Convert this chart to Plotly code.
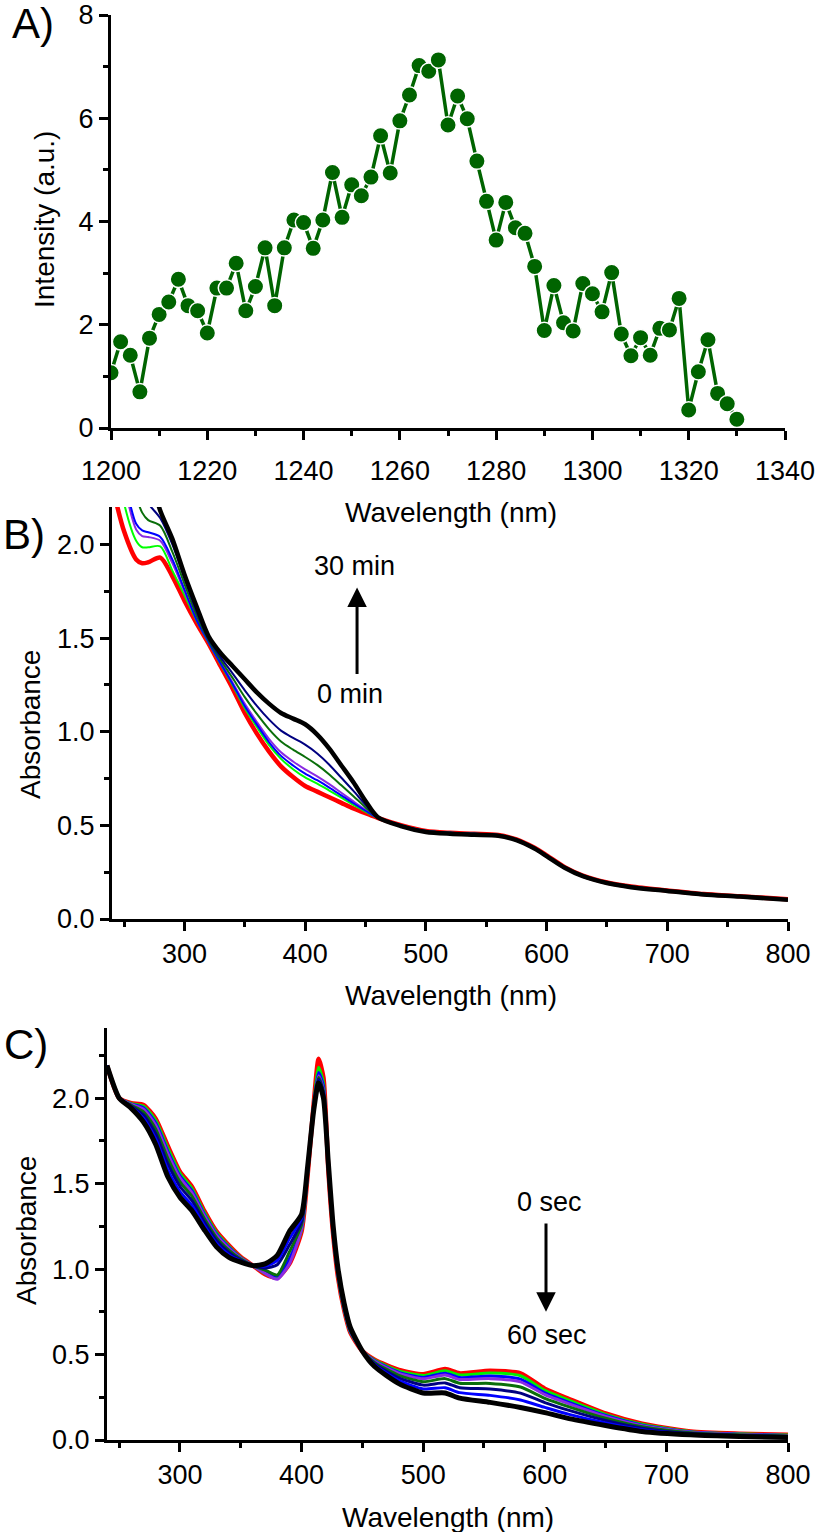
import plotly.graph_objects as go

# ---------------- Panel A data ----------------
A_wavelength = [1200, 1202, 1204, 1206, 1208, 1210, 1212, 1214, 1216, 1218,
                1220, 1222, 1224, 1226, 1228, 1230, 1232, 1234, 1236, 1238,
                1240, 1242, 1244, 1246, 1248, 1250, 1252, 1254, 1256, 1258,
                1260, 1262, 1264, 1266, 1268, 1270, 1272, 1274, 1276, 1278,
                1280, 1282, 1284, 1286, 1288, 1290, 1292, 1294, 1296, 1298,
                1300, 1302, 1304, 1306, 1308, 1310, 1312, 1314, 1316, 1318,
                1320, 1322, 1324, 1326, 1328, 1330]
A_intensity = [1.07, 1.67, 1.41, 0.70, 1.74, 2.20, 2.44, 2.88, 2.37, 2.27,
               1.84, 2.71, 2.71, 3.19, 2.27, 2.74, 3.49, 2.37, 3.49, 4.03,
               3.98, 3.48, 4.03, 4.95, 4.08, 4.71, 4.50, 4.86, 5.66, 4.94,
               5.95, 6.45, 7.02, 6.91, 7.13, 5.87, 6.43, 5.99, 5.17, 4.39,
               3.64, 4.37, 3.88, 3.77, 3.13, 1.89, 2.76, 2.04, 1.88, 2.80,
               2.60, 2.25, 3.01, 1.82, 1.40, 1.75, 1.41, 1.93, 1.90, 2.51,
               0.35, 1.09, 1.71, 0.67, 0.47, 0.17]

# ---------------- Panel B data (0 min -> 30 min) ----------------
B_wavelength = [240, 250, 260, 265, 270, 280, 290, 300, 310, 320, 330, 340, 350, 360,
                370, 380, 390, 400, 410, 420, 430, 440, 450, 460, 480, 500, 520, 540,
                560, 575, 590, 600, 615, 630, 650, 670, 700, 730, 760, 800]
B_red = [2.32, 2.07, 1.92, 1.90, 1.905, 1.93, 1.83, 1.70, 1.58, 1.47, 1.35, 1.23, 1.10, 0.99,
         0.895, 0.815, 0.758, 0.71, 0.68, 0.65, 0.62, 0.59, 0.565, 0.54, 0.50, 0.47, 0.46, 0.455,
         0.448, 0.425, 0.38, 0.34, 0.277, 0.232, 0.195, 0.173, 0.152, 0.133, 0.122, 0.105]
B_green = [2.6, 2.22, 2.02, 1.985, 1.985, 1.99, 1.86, 1.73, 1.593, 1.476, 1.36, 1.247, 1.125, 1.025,
           0.93, 0.855, 0.80, 0.756, 0.723, 0.686, 0.648, 0.610, 0.574, 0.541, 0.50, 0.47, 0.46, 0.455,
           0.448, 0.425, 0.38, 0.34, 0.277, 0.232, 0.195, 0.173, 0.152, 0.133, 0.122, 0.105]
B_purple = [2.7, 2.32, 2.08, 2.045, 2.04, 2.02, 1.90, 1.75, 1.604, 1.481, 1.369, 1.262, 1.149, 1.052,
            0.962, 0.89, 0.841, 0.799, 0.762, 0.720, 0.674, 0.628, 0.583, 0.541, 0.50, 0.47, 0.46, 0.455,
            0.448, 0.425, 0.38, 0.34, 0.277, 0.232, 0.195, 0.173, 0.152, 0.133, 0.122, 0.105]
B_blue = [2.75, 2.36, 2.11, 2.075, 2.065, 2.04, 1.92, 1.76, 1.598, 1.478, 1.364, 1.254, 1.136, 1.038,
          0.945, 0.871, 0.82, 0.776, 0.741, 0.702, 0.660, 0.618, 0.578, 0.541, 0.50, 0.47, 0.46, 0.455,
          0.448, 0.425, 0.38, 0.34, 0.277, 0.232, 0.195, 0.173, 0.152, 0.133, 0.122, 0.105]
B_darkgreen = [2.85, 2.55, 2.26, 2.17, 2.13, 2.10, 1.96, 1.79, 1.622, 1.489, 1.383, 1.286, 1.185, 1.095,
               1.014, 0.948, 0.904, 0.865, 0.823, 0.772, 0.714, 0.656, 0.596, 0.542, 0.50, 0.47, 0.46, 0.455,
               0.448, 0.425, 0.38, 0.34, 0.277, 0.232, 0.195, 0.173, 0.152, 0.133, 0.122, 0.105]
B_navy = [2.9, 2.65, 2.40, 2.30, 2.22, 2.14, 2.00, 1.82, 1.640, 1.497, 1.397, 1.310, 1.221, 1.138,
          1.066, 1.006, 0.967, 0.931, 0.884, 0.824, 0.754, 0.684, 0.610, 0.543, 0.50, 0.47, 0.46, 0.455,
          0.448, 0.425, 0.38, 0.34, 0.277, 0.232, 0.195, 0.173, 0.152, 0.133, 0.122, 0.105]
B_black = [2.9, 2.75, 2.6, 2.5, 2.4, 2.18, 2.03, 1.84, 1.67, 1.51, 1.42, 1.35, 1.28, 1.21,
           1.15, 1.10, 1.07, 1.04, 0.985, 0.91, 0.82, 0.73, 0.63, 0.545, 0.495, 0.465, 0.455, 0.45,
           0.445, 0.421, 0.376, 0.336, 0.274, 0.229, 0.192, 0.170, 0.150, 0.131, 0.120, 0.103]

# ---------------- Panel C data (0 sec -> 60 sec) ----------------
C_wavelength = [240, 250, 260, 270, 280, 290, 300, 310, 320, 330, 340, 350, 360, 370, 380, 390, 400,
                405, 410, 414, 418, 422, 426, 430, 435, 440,
                450, 460, 480, 500, 518, 530, 555, 580, 600, 620, 650, 680, 720, 760, 800]
C_red = [2.19, 2.00, 1.97, 1.96, 1.88, 1.72, 1.57, 1.48, 1.34, 1.22, 1.14, 1.07, 1.02, 0.97, 0.95, 1.03, 1.22,
         1.55, 1.97, 2.23, 2.12, 1.58, 1.20, 0.95, 0.76, 0.63,
         0.52, 0.47, 0.41, 0.385, 0.415, 0.39, 0.405, 0.39, 0.30, 0.24, 0.155, 0.095, 0.05, 0.037, 0.03]
C_green = [2.19, 2.00, 1.968, 1.953, 1.87, 1.707, 1.56, 1.47, 1.332, 1.214, 1.135, 1.068, 1.02, 0.974, 0.945, 1.043, 1.227,
           1.553, 1.967, 2.18, 2.09, 1.583, 1.204, 0.954, 0.763, 0.632,
           0.52, 0.467, 0.404, 0.377, 0.405, 0.38, 0.392, 0.376, 0.29, 0.232, 0.15, 0.092, 0.049, 0.036, 0.029]
C_blue = [2.19, 2.00, 1.965, 1.943, 1.855, 1.689, 1.545, 1.456, 1.321, 1.205, 1.128, 1.065, 1.02, 0.98, 0.96, 1.062, 1.237,
          1.559, 1.963, 2.15, 2.07, 1.587, 1.209, 0.959, 0.767, 0.635,
          0.52, 0.463, 0.396, 0.366, 0.391, 0.365, 0.374, 0.356, 0.276, 0.22, 0.143, 0.087, 0.047, 0.034, 0.027]
C_purple = [2.19, 2.00, 1.963, 1.935, 1.843, 1.675, 1.533, 1.445, 1.313, 1.198, 1.123, 1.063, 1.02, 0.975, 0.94, 1.03, 1.235,
            1.563, 1.96, 2.13, 2.05, 1.59, 1.213, 0.963, 0.77, 0.638,
            0.52, 0.46, 0.39, 0.358, 0.38, 0.354, 0.359, 0.34, 0.265, 0.211, 0.138, 0.084, 0.045, 0.033, 0.026]
C_darkgreen = [2.19, 2.00, 1.958, 1.92, 1.82, 1.648, 1.51, 1.424, 1.296, 1.184, 1.112, 1.058, 1.02, 0.994, 0.965, 1.10, 1.26,
               1.57, 1.954, 2.12, 2.04, 1.596, 1.22, 0.97, 0.776, 0.642,
               0.52, 0.454, 0.378, 0.341, 0.359, 0.332, 0.331, 0.31, 0.244, 0.194, 0.127, 0.077, 0.042, 0.03, 0.024]
C_navy = [2.19, 2.00, 1.953, 1.902, 1.793, 1.616, 1.483, 1.399, 1.276, 1.168, 1.099, 1.053, 1.02, 1.005, 1.025, 1.14, 1.278,
          1.579, 1.947, 2.11, 2.03, 1.603, 1.229, 0.979, 0.783, 0.647,
          0.52, 0.447, 0.364, 0.321, 0.334, 0.306, 0.298, 0.274, 0.219, 0.173, 0.114, 0.069, 0.038, 0.027, 0.021]
C_blue2 = [2.19, 2.00, 1.947, 1.882, 1.763, 1.58, 1.453, 1.371, 1.254, 1.15, 1.085, 1.047, 1.02, 1.017, 1.051, 1.178, 1.298,
           1.589, 1.939, 2.10, 2.02, 1.611, 1.239, 0.989, 0.791, 0.653,
           0.52, 0.439, 0.348, 0.299, 0.306, 0.277, 0.261, 0.234, 0.191, 0.15, 0.10, 0.06, 0.034, 0.024, 0.018]
C_black = [2.19, 2.00, 1.94, 1.86, 1.73, 1.54, 1.42, 1.34, 1.23, 1.13, 1.07, 1.04, 1.02, 1.03, 1.08, 1.22, 1.32,
           1.60, 1.93, 2.09, 2.00, 1.62, 1.25, 1.00, 0.80, 0.66,
           0.52, 0.43, 0.33, 0.275, 0.275, 0.245, 0.22, 0.19, 0.16, 0.125, 0.085, 0.05, 0.03, 0.02, 0.015]

# ---------------- Figure ----------------
W, H = 816, 1532
FONT = "Liberation Sans, Arial, Helvetica, sans-serif"


def px(x):
    return x / W


def py(y):
    return 1 - y / H


fig = go.Figure()

fig.add_trace(go.Scatter(
    x=A_wavelength, y=A_intensity, mode="lines+markers",
    line=dict(color="#006400", width=3.5),
    marker=dict(size=16.5, color="#006400", line=dict(color="white", width=1.5)),
    xaxis="x", yaxis="y"))

B_series = [(B_red, "#ff0000", 4.5), (B_green, "#00ff00", 2), (B_purple, "#8a2be2", 2),
            (B_blue, "#0000ff", 2), (B_darkgreen, "#0a6e0a", 2), (B_navy, "#000080", 2),
            (B_black, "#000000", 4.5)]
for vals, col, w in B_series:
    fig.add_trace(go.Scatter(x=B_wavelength, y=vals, mode="lines",
                             line=dict(color=col, width=w, shape="spline", smoothing=0.8),
                             xaxis="x2", yaxis="y2"))

C_series = [(C_red, "#ff0000", 4.5), (C_green, "#00ee00", 3), (C_blue, "#0000ff", 3),
            (C_purple, "#8a2be2", 3), (C_darkgreen, "#0a6e0a", 3), (C_navy, "#000080", 3),
            (C_blue2, "#0000ff", 3), (C_black, "#000000", 5)]
for vals, col, w in C_series:
    fig.add_trace(go.Scatter(x=C_wavelength, y=vals, mode="lines",
                             line=dict(color=col, width=w, shape="spline", smoothing=0.6),
                             xaxis="x3", yaxis="y3"))


def axis_style(**kw):
    d = dict(showline=True, linecolor="black", linewidth=3, ticks="outside", ticklen=9,
             tickwidth=3, tickcolor="black", showgrid=False, zeroline=False, automargin=False,
             tickfont=dict(size=27, family=FONT, color="black"), fixedrange=True)
    d.update(kw)
    return d


TICK_MINOR = dict(ticks="outside", ticklen=5, tickwidth=3, tickcolor="black", showgrid=False)

fig.update_layout(
    width=W, height=H, margin=dict(l=0, r=0, t=0, b=0, autoexpand=False),
    paper_bgcolor="white", plot_bgcolor="white", showlegend=False,
    font=dict(family=FONT, color="black"),
    xaxis=axis_style(domain=[px(111), px(785)], range=[1200, 1340], anchor="y",
                     tick0=1200, dtick=20, minor=dict(dtick=10, **TICK_MINOR),
                     ticklabelstandoff=8),
    yaxis=axis_style(domain=[py(428), py(15)], range=[0, 8], anchor="x",
                     tick0=0, dtick=2, minor=dict(dtick=1, **TICK_MINOR)),
    xaxis2=axis_style(domain=[px(112), px(788)], range=[240, 800], anchor="y2",
                      tick0=0, dtick=100, minor=dict(dtick=50, **TICK_MINOR)),
    yaxis2=axis_style(domain=[py(919), py(507)], range=[0, 2.2], anchor="x2",
                      tick0=0, dtick=0.5, tickformat=".1f", minor=dict(dtick=0.25, **TICK_MINOR)),
    xaxis3=axis_style(domain=[px(107), px(788)], range=[240, 800], anchor="y3",
                      tick0=0, dtick=100, minor=dict(dtick=50, **TICK_MINOR)),
    yaxis3=axis_style(domain=[py(1440), py(1028)], range=[0, 2.41], anchor="x3",
                      tick0=0, dtick=0.5, tickformat=".1f", minor=dict(dtick=0.25, **TICK_MINOR)),
)

ann = []


def label(text, x, y, size=28, angle=0):
    ann.append(dict(text=text, x=px(x), y=py(y), xref="paper", yref="paper",
                    showarrow=False, xanchor="center", yanchor="middle", textangle=angle,
                    font=dict(size=size, family=FONT, color="black")))


# Panel letters
label("A)", 33, 24, size=42)
label("B)", 24, 534, size=42)
label("C)", 26, 1044, size=42)
# Axis titles
label("Wavelength (nm)", 451, 512)
label("Intensity (a.u.)", 45, 220, angle=-90)
label("Wavelength (nm)", 451, 995)
label("Absorbance", 31, 725, angle=-90)
label("Wavelength (nm)", 448, 1517)
label("Absorbance", 26, 1231, angle=-90)

# Panel B annotations
ann.append(dict(text="30 min", x=441, y=1.885, xref="x2", yref="y2", showarrow=False,
                font=dict(size=27, family=FONT, color="black")))
ann.append(dict(text="0 min", x=437, y=1.20, xref="x2", yref="y2", showarrow=False,
                font=dict(size=27, family=FONT, color="black")))
ann.append(dict(text="", x=443, y=1.77, xref="x2", yref="y2", ax=443, ay=1.30,
                axref="x2", ayref="y2", showarrow=True, arrowhead=2, arrowsize=1.3,
                arrowwidth=3, arrowcolor="black"))
# Panel C annotations
ann.append(dict(text="0 sec", x=604, y=1.39, xref="x3", yref="y3", showarrow=False,
                font=dict(size=27, family=FONT, color="black")))
ann.append(dict(text="60 sec", x=602, y=0.614, xref="x3", yref="y3", showarrow=False,
                font=dict(size=27, family=FONT, color="black")))
ann.append(dict(text="", x=601, y=0.75, xref="x3", yref="y3", ax=601, ay=1.275,
                axref="x3", ayref="y3", showarrow=True, arrowhead=2, arrowsize=1.3,
                arrowwidth=3, arrowcolor="black"))

fig.update_layout(annotations=ann)
fig.write_html("out.html")
